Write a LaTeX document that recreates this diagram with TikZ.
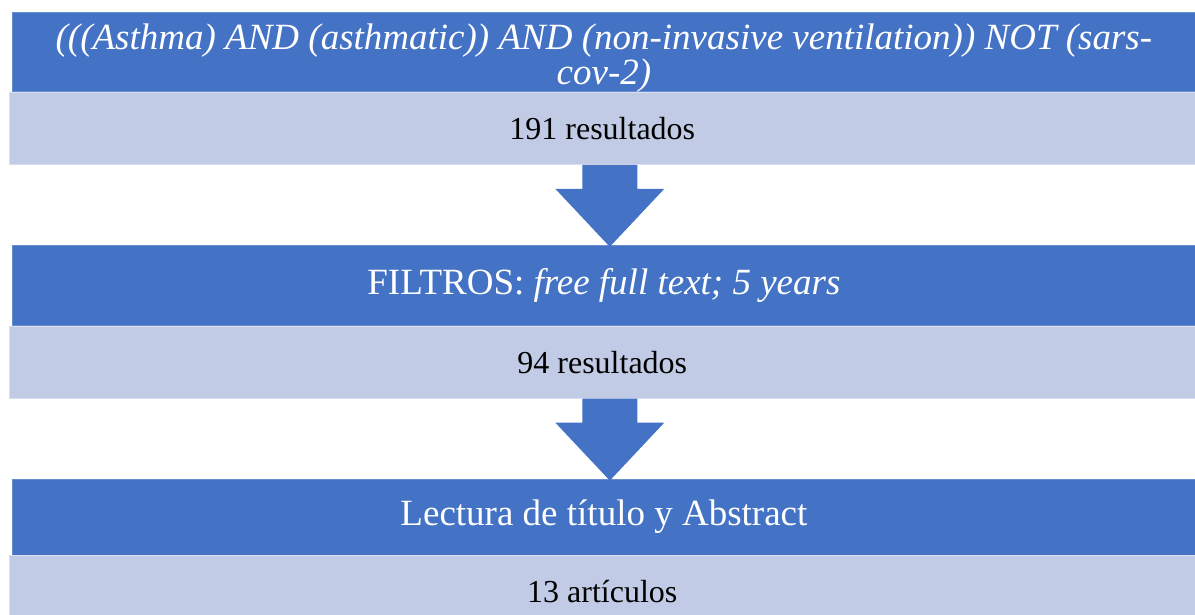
\documentclass[tikz,border=0pt]{standalone}
\usepackage{fontspec}
\setmainfont{Liberation Serif}
\usetikzlibrary{positioning,calc}
\definecolor{headblue}{HTML}{4472C4}
\definecolor{countblue}{HTML}{C1CBE6}
\newcommand{\headfont}{\fontsize{37}{35}\selectfont}
\newcommand{\countfont}{\fontsize{32}{34}\selectfont}
\tikzstyle{headbox}=[fill=headblue, draw=headblue!80!white, line width=0.8pt, text=white, font=\headfont, minimum width=1183pt, inner sep=0pt, align=center]
\tikzstyle{querytext}=[text=white, font=\headfont\itshape, inner sep=0pt, align=center]
\tikzstyle{countbox}=[fill=countblue, draw=countblue!60!white, line width=1pt, text=black, font=\countfont, minimum width=1186pt, minimum height=72pt, inner sep=0pt]

\begin{document}
\begin{tikzpicture}
\useasboundingbox (0,0) rectangle (1195pt,-615pt);
\clip (0,0) rectangle (1195pt,-615pt);
% search steps
\node[headbox, minimum height=79pt, anchor=north west] (query) at (12pt,-12pt) {};
\node[querytext] (querytext) at ($(query.center)+(0,-6pt)$) {(((Asthma) AND (asthmatic)) AND (non-invasive ventilation)) NOT (sars-\\cov-2)};
\node[countbox, anchor=north east] (res1) at (query.south east) {191 resultados};
\node[headbox, minimum height=80pt, anchor=north east] (filter) at ($(res1.south east)+(0,-80pt)$) {FILTROS: \textit{free full text; 5 years}};
\node[countbox, anchor=north east] (res2) at (filter.south east) {94 resultados};
\node[headbox, minimum height=76pt, anchor=north east] (reading) at ($(res2.south east)+(0,-80pt)$) {Lectura de título y Abstract};
\node[countbox, anchor=north east] (res3) at (reading.south east) {13 artículos};
% block arrows
\foreach \from/\to in {res1/filter,res2/reading} {
	\coordinate (top) at ($(\from.south)+(7.5pt,0)$);
	\coordinate (tip) at ($(top |- \to.north)+(0,-2pt)$);
	\fill[headblue] ($(top)+(-27.5pt,0)$) -- ($(top)+(27.5pt,0)$) -- ($(top)+(27.5pt,-24pt)$) -- ($(top)+(54.5pt,-24pt)$) -- (tip) -- ($(top)+(-54.5pt,-24pt)$) -- ($(top)+(-27.5pt,-24pt)$) -- cycle;
}
\end{tikzpicture}
\end{document}
